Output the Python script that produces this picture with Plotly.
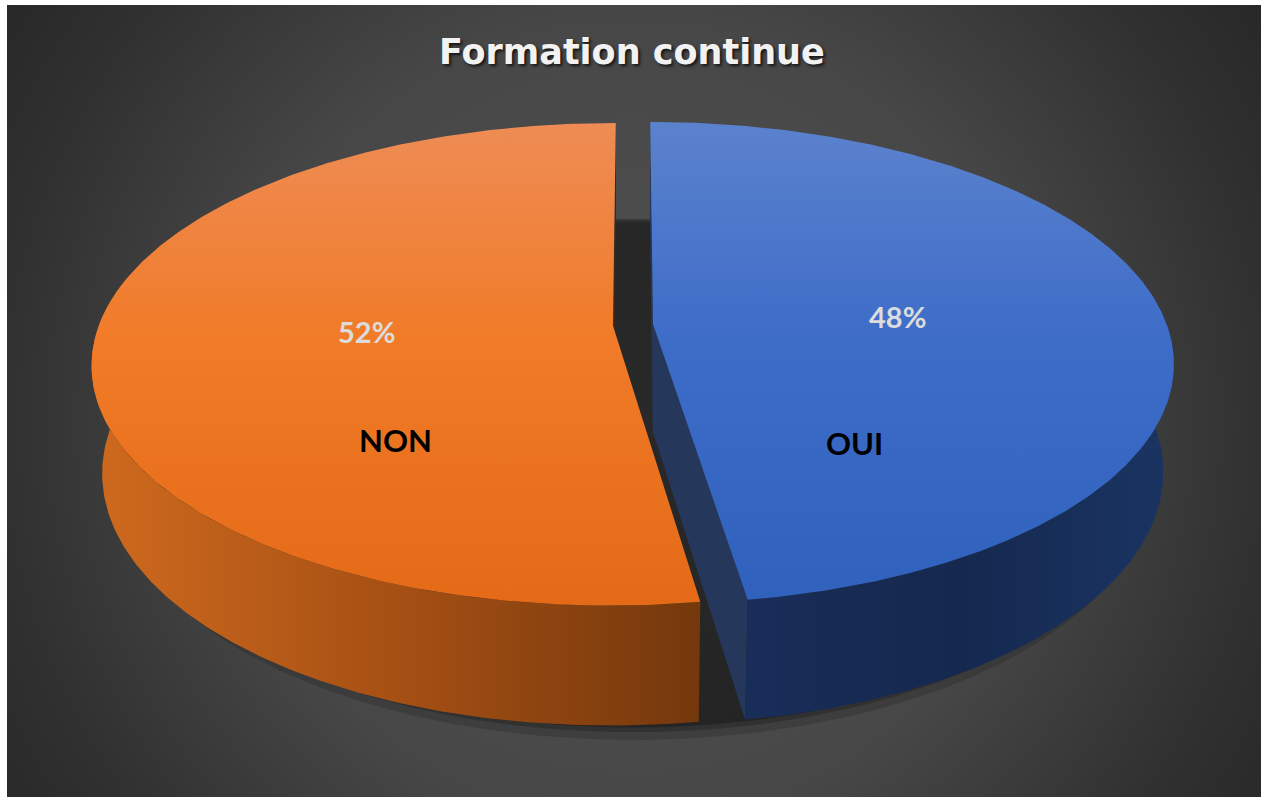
import numpy as np
import plotly.graph_objects as go

# ---------------- data ----------------
categories = ["OUI", "NON"]
values = [10, 11]
chart_title = "Formation continue"

# ---------------- styles ----------------
FIG_W, FIG_H = 1263, 798
SX0, SX1, SY0, SY1 = 7, 1261, 5, 797  # dark chart area (pixels)

slice_styles = {
    "OUI": dict(
        top=[[0, "#2f61bd"], [0.55, "#3e6dc8"], [1, "#5b82cd"]],
        side=[[0, "#182d58"], [0.5, "#15294f"], [1, "#1a3462"]],
        cut="#25375a",
        pct_pos=(897, 316), cat_pos=(854, 443),
    ),
    "NON": dict(
        top=[[0, "#e46a17"], [0.55, "#f17b28"], [1, "#ee8c55"]],
        side=[[0, "#cf6a1e"], [0.5, "#a65014"], [1, "#74380c"]],
        cut="#3a2a1c",
        pct_pos=(366, 331), cat_pos=(395, 440),
    ),
}

# projection (Excel-like 3D pie with perspective)
CX, CY = 633.0, 325.0
K = 514.0
D = 5.57
ALPHA = np.arcsin(0.457)
DEPTH = 0.2375
EXPLODE = 0.039
SA, CA = np.sin(ALPHA), np.cos(ALPHA)
CAM = np.array([0.0, -D * CA])


def proj(X, Y, Z):
    X = np.asarray(X, float)
    Y = np.asarray(Y, float)
    Z = np.asarray(Z, float) + 0 * X
    yc = Y * SA + Z * CA
    zc = D + Y * CA - Z * SA
    return CX + K * D * X / zc, CY - K * D * yc / zc


def arc(a0, a1, n=200):
    return np.radians(np.linspace(a0, a1, n))


fig = go.Figure()


def poly(xs, ys, **kw):
    xs = list(xs) + [xs[0]]
    ys = list(ys) + [ys[0]]
    fig.add_trace(go.Scatter(x=xs, y=ys, mode="lines", fill="toself",
                             line=dict(width=0), hoverinfo="skip",
                             showlegend=False, **kw))


# background with radial gradient (square so the gradient is circular)
bgc = (634, 420)
R_BG = 800
poly([bgc[0] - R_BG, bgc[0] + R_BG, bgc[0] + R_BG, bgc[0] - R_BG],
     [bgc[1] - R_BG, bgc[1] - R_BG, bgc[1] + R_BG, bgc[1] + R_BG],
     fillcolor="#333333",
     fillgradient=dict(type="radial",
                       colorscale=[[0, "#525252"], [0.5, "#474747"],
                                   [0.8, "#303030"], [1, "#252525"]]))

# tight soft shadow below the pie
t = arc(0, 360, 300)
for scale, dz, alpha in [(1.016, 0.02, 0.15), (1.008, 0.01, 0.2), (1.003, 0.004, 0.25)]:
    sx, sy = proj(scale * np.cos(t), scale * np.sin(t), -DEPTH - dz)
    poly(sx, sy, fillcolor=f"rgba(0,0,0,{alpha})")

# slices geometry
total = float(sum(values))
start = 90.0
geo = []
for cat, v in zip(categories, values):
    frac = v / total
    a0 = start
    a1 = start - frac * 360.0
    mid = np.radians((a0 + a1) / 2)
    off = EXPLODE * np.array([np.cos(mid), np.sin(mid)])
    geo.append((cat, frac, a0, a1, off))
    start = a1

# cut (radial) faces
for cat, frac, a0, a1, off in geo:
    st = slice_styles[cat]
    for ang, sgn in [(a0, +1), (a1, -1)]:
        r = np.radians(ang)
        nrm = np.array([np.cos(r + sgn * np.pi / 2), np.sin(r + sgn * np.pi / 2)])
        if np.dot(nrm, CAM - off) <= 0:
            continue
        ex, ey = off[0] + np.cos(r), off[1] + np.sin(r)
        px = [off[0], ex, ex, off[0]]
        py = [off[1], ey, ey, off[1]]
        pz = [0, 0, -DEPTH, -DEPTH]
        sx, sy = proj(px, py, pz)
        poly(sx, sy, fillcolor=st["cut"])

# outer side faces (front half only)
for cat, frac, a0, a1, off in geo:
    st = slice_styles[cat]
    hi = min(a0, 12.0)
    lo = max(a1, -192.0)
    if hi <= lo:
        continue
    tt = arc(hi, lo, 200)
    X = off[0] + np.cos(tt)
    Y = off[1] + np.sin(tt)
    tx, ty = proj(X, Y, 0)
    bx, by = proj(X, Y, -DEPTH)
    xs = np.concatenate([tx, bx[::-1]])
    ys = np.concatenate([ty, by[::-1]])
    poly(xs, ys, fillcolor=st["side"][0][1],
         fillgradient=dict(type="horizontal", colorscale=st["side"]))

# top faces
for cat, frac, a0, a1, off in geo:
    st = slice_styles[cat]
    tt = arc(a0, a1, 300)
    X = np.concatenate([[off[0]], off[0] + np.cos(tt)])
    Y = np.concatenate([[off[1]], off[1] + np.sin(tt)])
    sx, sy = proj(X, Y, 0)
    poly(sx, sy, fillcolor=st["top"][1][1],
         fillgradient=dict(type="vertical", colorscale=st["top"]))

# labels
for cat, frac, a0, a1, off in geo:
    st = slice_styles[cat]
    fig.add_annotation(x=st["pct_pos"][0], y=st["pct_pos"][1], xref="x", yref="y",
                       text=f"{round(frac * 100)}%", showarrow=False,
                       font=dict(family="Lato", size=29, color="#dcdcdc", weight="bold"))
    fig.add_annotation(x=st["cat_pos"][0], y=st["cat_pos"][1], xref="x", yref="y",
                       text=cat, showarrow=False,
                       font=dict(family="Lato", size=31, color="#000000", weight="bold"))

fig.add_annotation(x=632, y=52, xref="x", yref="y", text=chart_title, showarrow=False,
                   font=dict(family="DejaVu Sans", size=35, color="#f2f2f2", weight="bold",
                             shadow="2px 2px 3px rgba(0,0,0,0.7)"))

fig.update_layout(
    width=FIG_W, height=FIG_H, autosize=False,
    margin=dict(l=SX0, r=FIG_W - SX1, t=SY0, b=FIG_H - SY1, pad=0),
    paper_bgcolor="#ffffff", plot_bgcolor="#2a2a2a",
    xaxis=dict(range=[SX0, SX1], visible=False, fixedrange=True),
    yaxis=dict(range=[SY1, SY0], visible=False, fixedrange=True),
    showlegend=False,
)

fig.write_html("out.html", config={"displayModeBar": False},
               post_script="document.body.style.margin='0';document.body.style.overflow='hidden';")
